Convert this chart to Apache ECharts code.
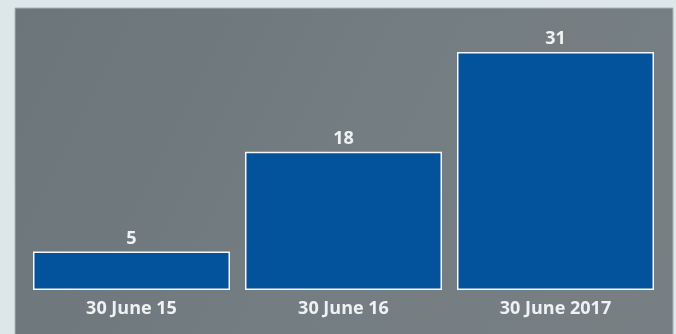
<!DOCTYPE html>
<html>
<head>
<meta charset="utf-8">
<script src="https://cdn.jsdelivr.net/npm/echarts@6/dist/echarts.min.js"></script>
<style>
  html, body { margin: 0; padding: 0; background: #dde6e8; }
  #main { width: 676px; height: 334px; }
</style>
</head>
<body>
<div id="main"></div>
<script>
var categories = ['30 June 15', '30 June 16', '30 June 2017'];
var values = [5, 18, 31];

var chart = echarts.init(document.getElementById('main'));

var option = {
  backgroundColor: '#dde6e8',
  animation: false,
  graphic: [
    {
      type: 'rect',
      z: -10,
      shape: { x: 15, y: 8, width: 658, height: 330 },
      style: {
        fill: new echarts.graphic.LinearGradient(0, 0, 1, 1, [
          { offset: 0, color: '#6b757a' },
          { offset: 0.5, color: '#747d81' },
          { offset: 1, color: '#777f83' }
        ]),
        stroke: '#aab4b7',
        lineWidth: 1
      }
    }
  ],
  grid: {
    left: 25.5,
    right: 14.5,
    top: 52,
    bottom: 44
  },
  xAxis: {
    type: 'category',
    data: categories,
    axisLine: { show: false },
    axisTick: { show: false },
    axisLabel: {
      color: '#eef2f2',
      fontFamily: 'Open Sans',
      fontWeight: 'bold',
      fontSize: 18,
      margin: 10
    }
  },
  yAxis: {
    type: 'value',
    min: 0,
    max: 31,
    show: false,
    splitLine: { show: false }
  },
  series: [
    {
      type: 'bar',
      data: values,
      barWidth: 197,
      itemStyle: {
        color: '#02529c',
        borderColor: '#f4f6f8',
        borderWidth: 1.5
      },
      label: {
        show: true,
        position: 'top',
        distance: 4,
        color: '#eef2f2',
        fontFamily: 'Open Sans',
        fontWeight: 'bold',
        fontSize: 18
      }
    }
  ]
};

chart.setOption(option);
</script>
</body>
</html>
